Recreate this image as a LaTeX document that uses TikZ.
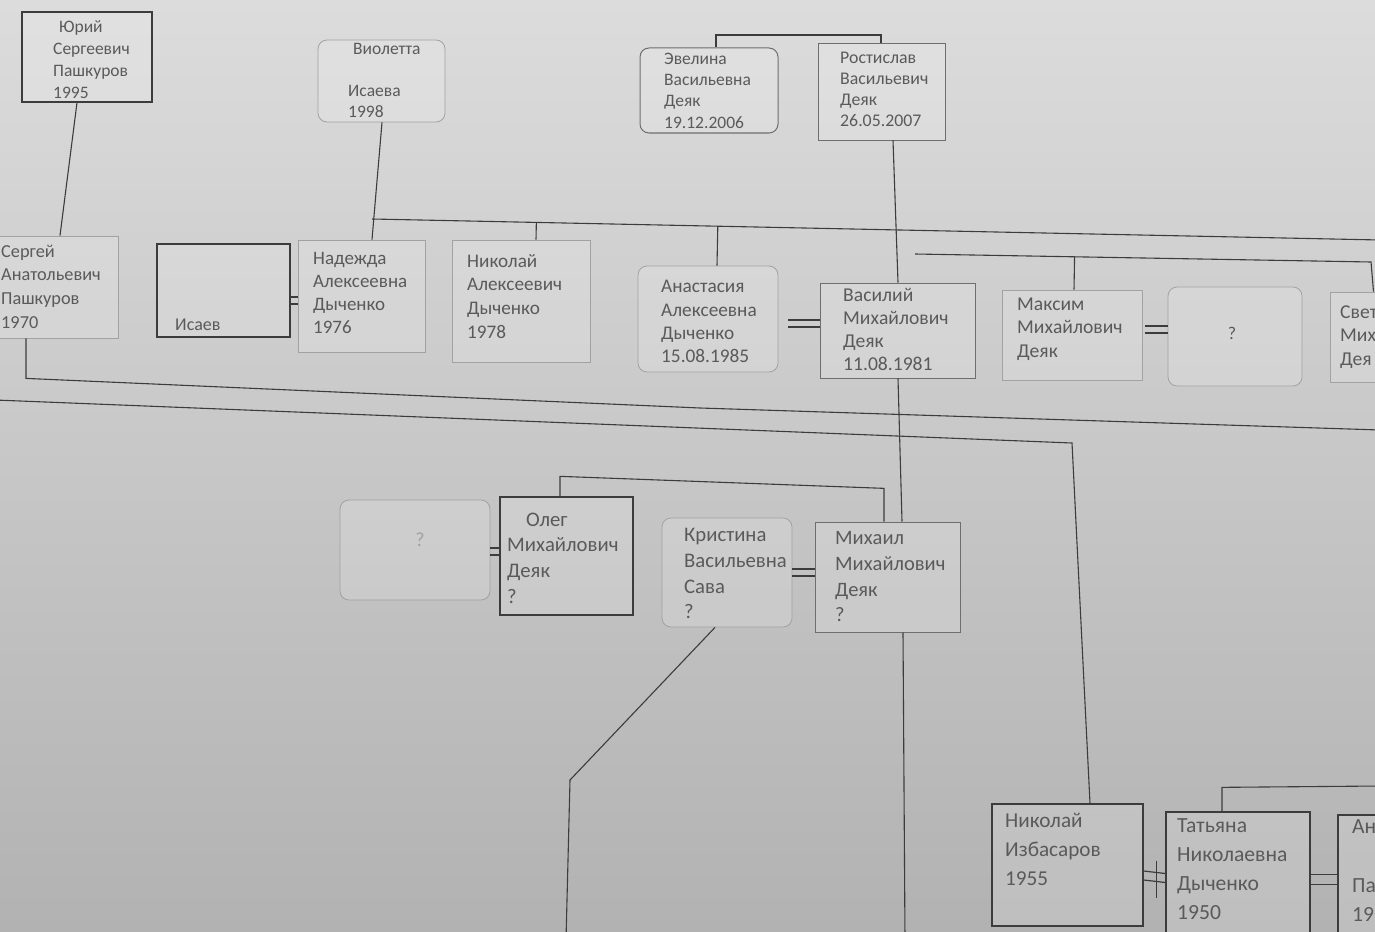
\documentclass[tikz,border=0pt]{standalone}
\usepackage{fontspec}
\setmainfont{Carlito}
\usetikzlibrary{calc}
\definecolor{paperTop}{HTML}{DCDCDC}
\definecolor{paperBot}{HTML}{B2B2B2}
\definecolor{ink}{HTML}{3C3C3C}
\definecolor{txtc}{HTML}{5A5A5A}
\definecolor{faintc}{HTML}{A2A2A2}
\definecolor{midc}{HTML}{6E6E6E}
\tikzset{
  boxbase/.style={inner sep=0pt, fill=white, fill opacity=0.16, anchor=center},
  darkbox/.style={boxbase, draw=ink, line width=1.3pt},
  midbox/.style={boxbase, draw=midc, line width=1pt},
  faintbox/.style={boxbase, draw=faintc, line width=0.8pt},
  roundbox/.style={rounded corners=9pt},
  ptxt/.style={text=txtc, align=left, inner sep=0pt, anchor=north west, execute at begin node=\strut},
  conn/.style={draw=ink, line width=1.1pt},
  wed/.style={draw=ink, line width=1.2pt},
}
\newcommand\pbx[6]{\node[#6, minimum width={#4-(#2)}, minimum height={#5-(#3)}] (#1) at ({(#2+#4)/2},{(#3+#5)/2}) {};}
\newcommand\ptext[6]{\node[ptxt, font={\fontsize{#4}{#5}\selectfont}] (#1) at ({#2},{#3+0.55*#4-0.7*#5}) {#6};}
\begin{document}
\begin{tikzpicture}[x=1pt,y=-1pt]
\useasboundingbox (0,0) rectangle (1375,931);
\clip (0,0) rectangle (1375,931);
\shade[top color=paperTop, bottom color=paperBot] (0,0) rectangle (1375,931);

% ---------- boxes ----------
\pbx{yuri}{22}{12}{152}{102}{darkbox}
\pbx{viol}{318}{40}{445}{122}{faintbox,roundbox}
\pbx{evel}{640}{48}{778}{133}{midbox,roundbox}
\pbx{rost}{818}{44}{945}{140}{midbox}
\pbx{serg}{-5}{236}{118}{338}{faintbox}
\pbx{isaev}{157}{244}{290}{337}{darkbox}
\pbx{nadez}{298}{240}{425}{352}{faintbox}
\pbx{nikA}{452}{240}{590}{362}{faintbox}
\pbx{anast}{638}{266}{778}{372}{faintbox,roundbox}
\pbx{vasil}{820}{283}{975}{378}{midbox}
\pbx{maks}{1002}{290}{1142}{380}{faintbox}
\pbx{qA}{1168}{287}{1302}{386}{faintbox,roundbox}
\pbx{svet}{1330}{292}{1395}{382}{faintbox}
\pbx{qB}{340}{500}{490}{600}{faintbox,roundbox}
\pbx{oleg}{500}{497}{633}{615}{darkbox}
\pbx{krist}{662}{518}{792}{627}{faintbox,roundbox}
\pbx{mikh}{815}{522}{960}{632}{midbox}
\pbx{izb}{992}{804}{1143}{926}{darkbox}
\pbx{tat}{1166}{812}{1310}{940}{darkbox}
\pbx{an}{1338}{815}{1395}{940}{darkbox}

% ---------- texts ----------
\ptext{yuriT}{53}{26}{17.5}{22}{\hspace*{6pt}Юрий\\Сергеевич\\Пашкуров\\1995}
\ptext{violT}{348}{48}{17.5}{21}{\hspace*{5pt}Виолетта\\\mbox{}\\Исаева\\1998}
\ptext{evelT}{664}{58}{17.5}{21.3}{Эвелина\\Васильевна\\Деяк\\19.12.2006}
\ptext{rostT}{840}{57}{17.8}{21}{Ростислав\\Васильевич\\Деяк\\26.05.2007}
\ptext{sergT}{1}{251}{18.3}{23.7}{Сергей\\Анатольевич\\Пашкуров\\1970}
\ptext{isaevT}{175}{320}{18}{22}{Исаев}
\ptext{nadezT}{313}{258}{19}{23}{Надежда\\Алексеевна\\Дыченко\\1976}
\ptext{nikAT}{467}{260}{19.2}{23.7}{Николай\\Алексеевич\\Дыченко\\1978}
\ptext{anastT}{661}{286}{19.3}{23.3}{Анастасия\\Алексеевна\\Дыченко\\15.08.1985}
\ptext{vasilT}{843}{293}{19.6}{23}{Василий\\Михайлович\\Деяк\\11.08.1981}
\ptext{maksT}{1017}{303}{19.6}{23.5}{Максим\\Михайлович\\Деяк}
\node[text=txtc, font={\fontsize{18}{22}\selectfont}] (qAT) at (1232,333) {?};
\ptext{svetT}{1340}{311}{19.6}{23.5}{Свет\\Мих\\Дея}
\node[text=faintc, font={\fontsize{20}{24}\selectfont}] (qBT) at (420,540) {?};
\ptext{olegT}{507}{519}{20.7}{25.7}{\hspace*{19pt}Олег\\Михайлович\\Деяк\\?}
\ptext{kristT}{684}{535}{20.7}{25.7}{Кристина\\Васильевна\\Сава\\?}
\ptext{mikhT}{835}{538}{20.5}{25.7}{Михаил\\Михайлович\\Деяк\\?}
\ptext{izbT}{1005}{822}{21.2}{29}{Николай\\Избасаров\\1955}
\ptext{tatT}{1177}{827}{21.6}{29}{Татьяна\\Николаевна\\Дыченко\\1950}
\ptext{anT}{1352}{828}{21.6}{29.5}{Ан\\\mbox{}\\Па\\19}

% ---------- free-end coordinates ----------
\coordinate (dyL) at (372,219);
\coordinate (dyR) at (1380,240);
\coordinate (dkL) at (915,254);
\coordinate (dkR) at (1371,262);
\coordinate (sibTop) at (800,35);
\coordinate (sL1) at (700,408);
\coordinate (sL2) at (1380,430);
\coordinate (lL) at (-5,400);
\coordinate (lC) at (1072,443);
\coordinate (kBend) at (570,780);
\coordinate (kEnd) at (566,940);
\coordinate (mEnd) at (905,940);
\coordinate (tR) at (1380,786);

% ---------- connectors ----------
\draw[conn] ([xshift=-10pt]yuri.south) -- ([xshift=3.5pt]serg.north);
\draw[conn] ([xshift=0.5pt]viol.south) -- ([xshift=10.5pt]nadez.north);
\draw[conn] (dyL) -- (dyR);
\draw[conn] ([xshift=15pt]nikA.north) -- ($(dyL)!([xshift=15pt]nikA.north)!(dyR)$);
\draw[conn] ([xshift=9pt]anast.north) -- ($(dyL)!([xshift=9pt]anast.north)!(dyR)$);
\draw[conn] ([xshift=7pt]evel.north) |- (sibTop) -| ([xshift=-0.5pt]rost.north);
\draw[conn] ([xshift=11.5pt]rost.south) -- ([xshift=0.5pt]vasil.north);
\draw[conn] (dkL) -- (dkR) -- ([xshift=11pt]svet.north);
\draw[conn] ([xshift=2pt]maks.north) -- ($(dkL)!([xshift=2pt]maks.north)!(dkR)$);
\draw[conn] ([xshift=-30.5pt]serg.south) -- ++(0,40) -- (sL1) -- (sL2);
\draw[conn] (lL) -- (lC) -- ([xshift=22.5pt]izb.north);
\draw[conn] ([xshift=0.5pt]vasil.south) -- ([xshift=14.5pt]mikh.north);
\draw[conn] ([xshift=-6.5pt]oleg.north) -- ++(0,-20) -- ++(324,12) -- ([xshift=-3.5pt]mikh.north);
\draw[conn] ([xshift=-12pt]krist.south) -- (kBend) -- (kEnd);
\draw[conn] ([xshift=15.5pt]mikh.south) -- (mEnd);
\draw[conn] ([xshift=-16pt]tat.north) -- ++(0,-24) -- (tR);

% ---------- marriage marks ----------
\draw[wed] ([yshift=-6.5pt]isaev.east) -- ([yshift=-1pt]nadez.west);
\draw[wed] ([yshift=-13.5pt]isaev.east) -- ([yshift=-8pt]nadez.west);
\draw[wed, shorten <=10pt] ([yshift=-1pt]anast.east) -- ([yshift=10.5pt]vasil.west);
\draw[wed, shorten <=10pt] ([yshift=-8pt]anast.east) -- ([yshift=3.5pt]vasil.west);
\draw[wed, shorten <=3pt] ([yshift=9pt]maks.east) -- ([yshift=10.5pt]qA.west);
\draw[wed, shorten <=3pt] ([yshift=2pt]maks.east) -- ([yshift=3.5pt]qA.west);
\draw[wed] ([yshift=2pt]qB.east) -- ([yshift=8pt]oleg.west);
\draw[wed] ([yshift=-5pt]qB.east) -- ([yshift=1pt]oleg.west);
\draw[wed] ([yshift=3.5pt]krist.east) -- ([yshift=8pt]mikh.west);
\draw[wed] ([yshift=-3.5pt]krist.east) -- ([yshift=1pt]mikh.west);
\draw[wed] ([yshift=-6pt]izb.east) -- ([yshift=2.5pt]tat.west);
\draw[wed] ([yshift=-15pt]izb.east) -- ([yshift=-6.5pt]tat.west);
\draw[wed] ([xshift=-9pt,yshift=15.5pt]tat.west) -- ([xshift=-9pt,yshift=-21.5pt]tat.west);
\draw[wed] ([yshift=1.5pt]tat.east) -- ([yshift=3pt]an.west);
\draw[wed] ([yshift=-8.5pt]tat.east) -- ([yshift=-7pt]an.west);
\end{tikzpicture}
\end{document}
